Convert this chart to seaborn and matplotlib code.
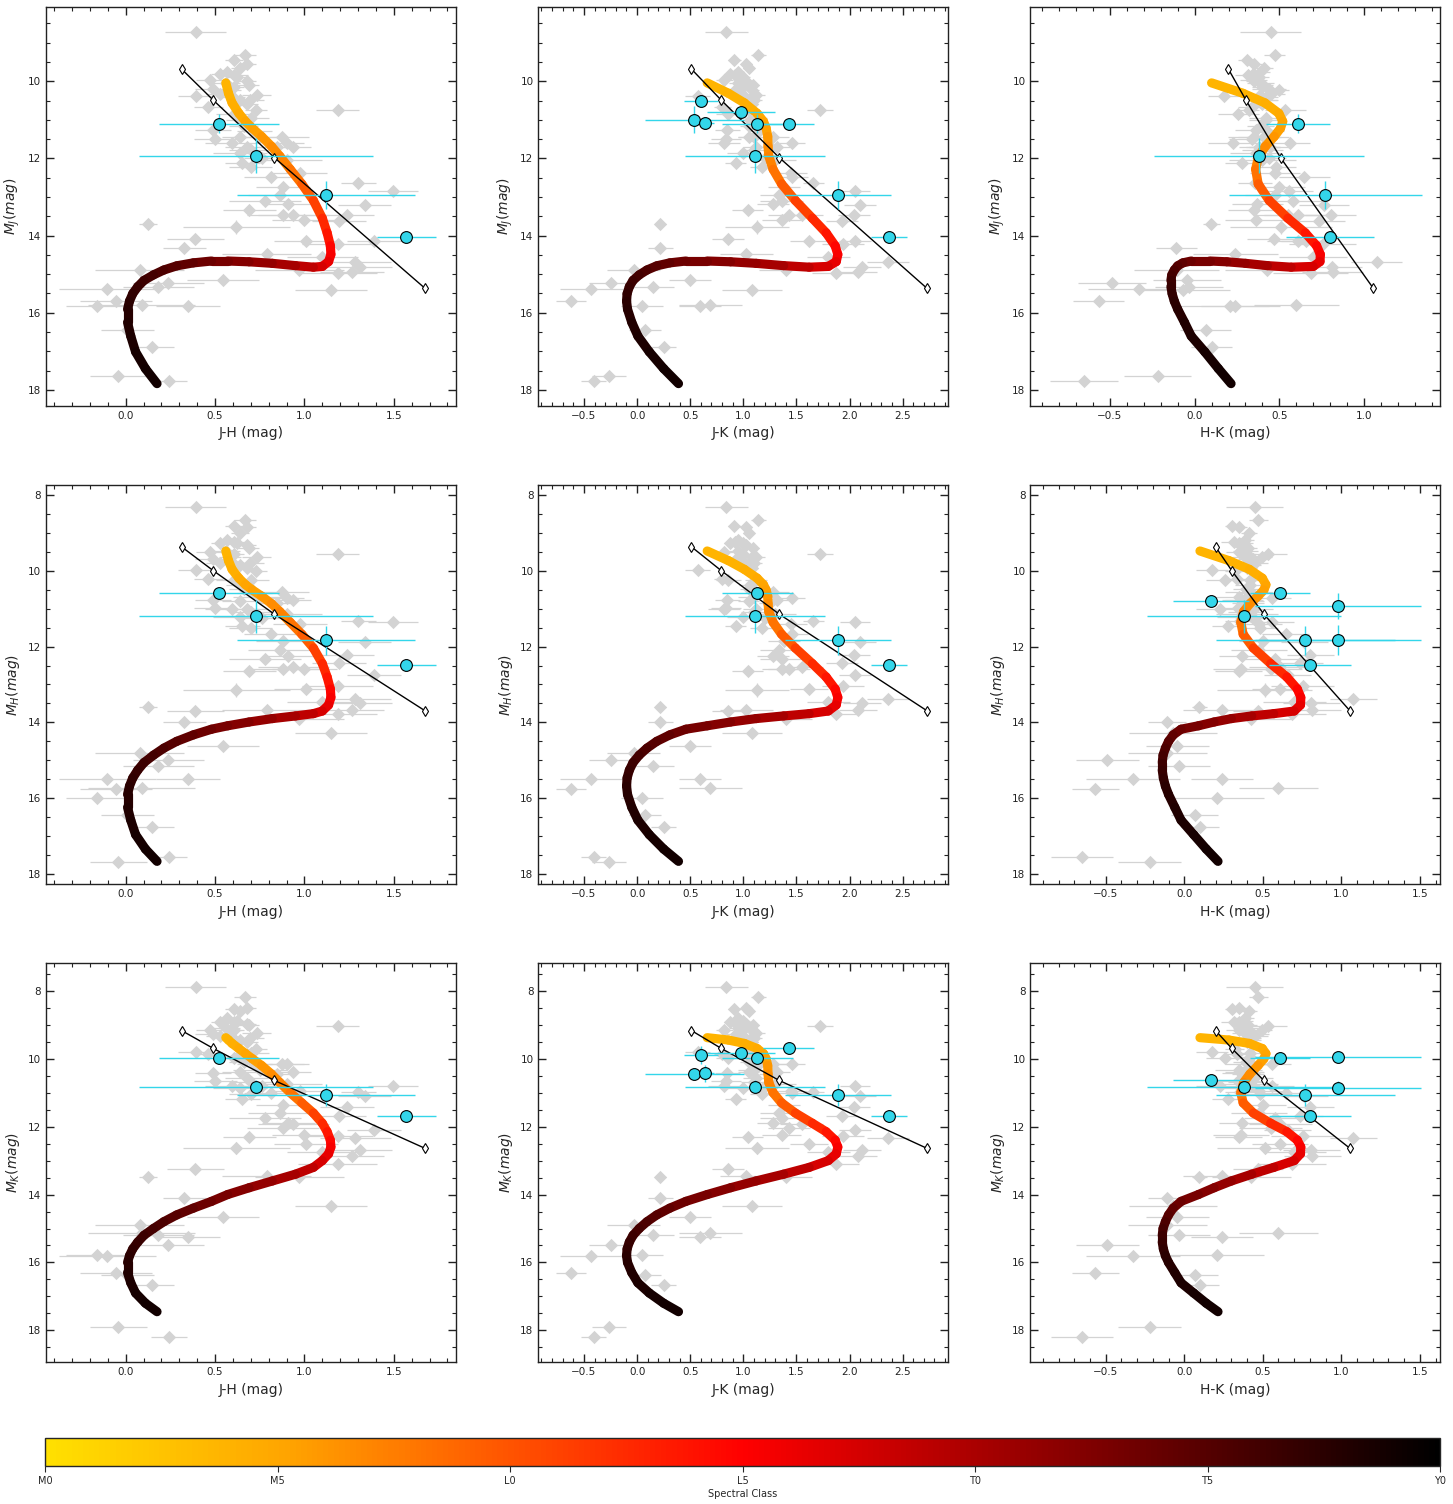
import numpy as np
import matplotlib
matplotlib.use("Agg")
import matplotlib.pyplot as plt
import seaborn as sns
from matplotlib.colors import LinearSegmentedColormap, Normalize
from matplotlib.collections import LineCollection
from matplotlib.cm import ScalarMappable
import matplotlib.ticker as mticker

# ---------------- data ----------------
# field objects: absolute J magnitude and colours
field_MJ = [8.72, 9.33, 9.44, 9.54, 9.80, 9.76, 9.84, 10.00, 10.10, 10.19,
            10.32, 10.23, 10.49, 10.38, 10.49, 10.75, 10.75, 10.84, 11.01, 11.27,
            11.49, 11.44, 11.44, 11.44, 11.61, 11.61, 11.70, 11.87, 11.70, 11.70,
            12.12, 12.22, 12.48, 12.74, 12.95, 13.17, 13.10, 13.34, 13.47, 13.47,
            13.60, 12.64, 12.84, 13.21, 13.47, 13.62, 13.77, 13.71, 14.10, 14.31,
            14.14, 14.22, 14.47, 14.14, 14.55, 14.68, 14.81, 14.94, 14.97, 14.88,
            15.16, 14.88, 15.33, 15.38, 15.70, 15.82, 15.81, 15.83, 15.42, 16.45,
            16.90, 17.63, 17.78, 15.24, 9.97, 10.15, 10.36, 10.67, 12.05, 12.39,
            9.90, 10.05, 10.40, 10.60, 10.95, 11.15, 11.30, 11.78, 12.00, 9.65]
field_JH = [0.392, 0.668, 0.608, 0.681, 0.528, 0.565, 0.603, 0.677, 0.687, 0.490,
            0.528, 0.584, 0.640, 0.394, 0.696, 0.729, 1.185, 0.603, 0.640, 0.490,
            0.500, 0.640, 0.752, 0.873, 0.900, 0.593, 0.677, 0.640, 0.845, 0.938,
            0.653, 0.700, 0.813, 0.880, 0.864, 0.910, 0.780, 0.692, 0.880, 0.938,
            1.000, 1.302, 1.493, 1.336, 1.237, 1.194, 0.619, 0.123, 0.390, 0.328,
            1.010, 1.185, 0.789, 1.390, 1.100, 1.285, 1.310, 1.265, 1.185, 0.972,
            0.543, 0.077, 0.183, -0.103, -0.054, -0.162, 0.090, 0.350, 1.149, 0.009,
            0.149, -0.041, 0.241, 0.239, 0.472, 0.603, 0.733, 0.463, 0.900, 0.976,
            0.620, 0.560, 0.600, 0.680, 0.700, 0.660, 0.720, 0.700, 0.760, 0.640]
field_JK = [0.84, 1.14, 0.915, 1.03, 0.875, 0.95, 0.92, 1.03, 1.09, 0.93,
            0.98, 1.08, 1.05, 0.57, 1.10, 1.05, 1.72, 0.86, 1.06, 0.85,
            0.84, 1.05, 1.10, 1.28, 1.46, 0.82, 1.12, 1.00, 1.25, 1.32,
            0.93, 1.18, 1.46, 1.38, 1.34, 1.28, 1.36, 1.04, 1.43, 1.55,
            1.36, 1.66, 2.05, 2.10, 2.04, 1.93, 1.13, 0.22, 0.86, 0.22,
            1.62, 1.94, 1.03, 2.05, 1.80, 2.36, 2.12, 2.08, 1.87, 1.40,
            0.50, -0.03, 0.15, -0.43, -0.62, 0.044, 0.69, 0.59, 1.08, 0.075,
            0.25, -0.26, -0.41, -0.25, 0.82, 1.00, 1.12, 0.80, 1.30, 1.45,
            1.00, 0.95, 1.02, 1.08, 1.12, 1.05, 1.15, 1.10, 1.20, 1.05]
field_eJH = [0.17, 0.06, 0.05, 0.05, 0.05, 0.05, 0.08, 0.05, 0.06, 0.10,
             0.08, 0.06, 0.08, 0.10, 0.08, 0.06, 0.12, 0.10, 0.08, 0.10,
             0.12, 0.10, 0.15, 0.15, 0.10, 0.15, 0.12, 0.15, 0.10, 0.10,
             0.10, 0.12, 0.15, 0.15, 0.18, 0.15, 0.20, 0.15, 0.20, 0.20,
             0.18, 0.10, 0.14, 0.15, 0.15, 0.15, 0.30, 0.05, 0.16, 0.12,
             0.18, 0.20, 0.25, 0.15, 0.20, 0.20, 0.18, 0.18, 0.22, 0.25,
             0.20, 0.25, 0.20, 0.27, 0.20, 0.17, 0.30, 0.18, 0.20, 0.15,
             0.12, 0.16, 0.10, 0.20, 0.08, 0.06, 0.08, 0.08, 0.20, 0.15,
             0.06, 0.08, 0.07, 0.06, 0.10, 0.08, 0.10, 0.12, 0.10, 0.05]
field_eJK = [0.20, 0.07, 0.06, 0.05, 0.06, 0.06, 0.08, 0.05, 0.06, 0.10,
             0.09, 0.07, 0.08, 0.12, 0.08, 0.06, 0.12, 0.12, 0.10, 0.12,
             0.14, 0.10, 0.15, 0.15, 0.12, 0.15, 0.12, 0.15, 0.10, 0.12,
             0.10, 0.12, 0.15, 0.15, 0.18, 0.15, 0.20, 0.15, 0.20, 0.20,
             0.18, 0.10, 0.14, 0.15, 0.15, 0.15, 0.30, 0.05, 0.15, 0.12,
             0.18, 0.20, 0.25, 0.15, 0.20, 0.20, 0.18, 0.18, 0.22, 0.25,
             0.20, 0.25, 0.20, 0.30, 0.14, 0.20, 0.30, 0.20, 0.28, 0.15,
             0.12, 0.16, 0.12, 0.20, 0.08, 0.06, 0.08, 0.08, 0.20, 0.15,
             0.06, 0.08, 0.07, 0.06, 0.10, 0.08, 0.10, 0.12, 0.10, 0.05]
field_eHK = [0.18, 0.06, 0.05, 0.05, 0.05, 0.06, 0.08, 0.05, 0.06, 0.10,
             0.08, 0.06, 0.08, 0.10, 0.08, 0.06, 0.12, 0.12, 0.10, 0.12,
             0.14, 0.10, 0.15, 0.15, 0.12, 0.15, 0.12, 0.15, 0.10, 0.12,
             0.10, 0.12, 0.15, 0.15, 0.18, 0.15, 0.20, 0.15, 0.20, 0.20,
             0.18, 0.10, 0.14, 0.15, 0.15, 0.15, 0.30, 0.05, 0.16, 0.12,
             0.18, 0.20, 0.25, 0.15, 0.20, 0.15, 0.18, 0.18, 0.22, 0.25,
             0.20, 0.25, 0.20, 0.30, 0.15, 0.30, 0.25, 0.20, 0.28, 0.15,
             0.12, 0.20, 0.20, 0.20, 0.08, 0.06, 0.08, 0.08, 0.20, 0.15,
             0.06, 0.08, 0.07, 0.06, 0.10, 0.08, 0.10, 0.12, 0.10, 0.05]
field_eM = [0.05, 0.03, 0.03, 0.03, 0.03, 0.03, 0.03, 0.03, 0.03, 0.03,
            0.03, 0.03, 0.03, 0.03, 0.03, 0.03, 0.05, 0.03, 0.03, 0.03,
            0.03, 0.03, 0.03, 0.04, 0.04, 0.03, 0.04, 0.03, 0.04, 0.04,
            0.04, 0.04, 0.04, 0.04, 0.05, 0.05, 0.05, 0.05, 0.05, 0.05,
            0.05, 0.05, 0.05, 0.05, 0.05, 0.05, 0.18, 0.05, 0.05, 0.05,
            0.05, 0.05, 0.05, 0.05, 0.05, 0.05, 0.05, 0.05, 0.05, 0.05,
            0.05, 0.05, 0.05, 0.05, 0.05, 0.05, 0.05, 0.05, 0.05, 0.05,
            0.05, 0.05, 0.05, 0.05, 0.03, 0.03, 0.03, 0.03, 0.05, 0.05,
            0.03, 0.03, 0.03, 0.03, 0.03, 0.03, 0.03, 0.04, 0.04, 0.03]

# spectral-type sequence (M dwarf -> late T): spectral type, M_K and colours
seq_spt = [3.6, 3.9, 4.2, 4.5, 4.9, 5.2, 5.8, 6.3, 6.9, 7.6, 8.8, 10.4, 12.0, 13.3,
           14.3, 15.0, 15.8, 16.8, 18.0, 19.6, 20.8, 21.8, 22.6, 23.3, 24.0, 24.6,
           25.2, 25.7, 26.2, 26.6, 27.0, 27.3, 27.6, 27.9, 28.2, 28.5, 28.8, 29.0]
seq_MK = [9.38, 9.45, 9.55, 9.70, 9.85, 10.00, 10.20, 10.45, 10.70, 11.00, 11.30, 11.60,
          11.90, 12.15, 12.40, 12.60, 12.80, 13.00, 13.20, 13.40, 13.60, 13.80, 14.00,
          14.20, 14.40, 14.60, 14.80, 15.00, 15.20, 15.40, 15.60, 15.80, 16.00, 16.30,
          16.60, 16.90, 17.20, 17.45]
seq_JK = [0.66, 0.86, 1.01, 1.13, 1.19, 1.215, 1.23, 1.233, 1.24, 1.28, 1.36, 1.49,
          1.65, 1.78, 1.865, 1.89, 1.875, 1.80, 1.62, 1.38, 1.12, 0.88, 0.66,
          0.46, 0.308, 0.185, 0.093, 0.02, -0.038, -0.073, -0.094, -0.099, -0.09, -0.05,
          0.008, 0.115, 0.25, 0.39]
seq_JH = [0.56, 0.575, 0.595, 0.633, 0.67, 0.708, 0.76, 0.815, 0.862, 0.92, 0.985, 1.05,
          1.10, 1.127, 1.145, 1.148, 1.135, 1.10, 1.05, 0.95, 0.82, 0.69, 0.57,
          0.48, 0.378, 0.285, 0.213, 0.155, 0.102, 0.067, 0.039, 0.021, 0.01, 0.01,
          0.028, 0.055, 0.11, 0.175]

# reference sequence (black line with diamonds)
line_MJ = [9.68, 10.49, 11.98, 15.37]
line_MH = [9.368, 10.00, 11.148, 13.695]
line_MK = [9.169, 9.697, 10.641, 12.64]

# highlighted objects (cyan)
nan = np.nan
tgt_MJ = [11.10, 11.93, 12.95, 14.05, 10.50, 11.00, 11.07, 10.80, 11.10, nan, nan, nan]
tgt_MH = [10.58, 11.20, 11.83, 12.48, nan, nan, nan, nan, nan, 10.80, 10.93, 11.83]
tgt_MK = [9.97, 10.82, 11.06, 11.68, 9.90, 10.46, 10.43, 9.82, 9.67, 10.63, 9.95, 10.85]
tgt_eJH = [0.335, 0.655, 0.50, 0.165, nan, nan, nan, nan, nan, nan, nan, nan]
tgt_eJK = [0.335, 0.66, 0.50, 0.17, 0.16, 0.47, 0.08, 0.32, 0.24, nan, nan, nan]
tgt_eHK = [0.19, 0.62, 0.57, 0.26, nan, nan, nan, nan, nan, 0.24, 0.53, 0.53]
tgt_eMJ = [0.25, 0.46, 0.36, 0.04, 0.06, 0.35, 0.05, 0.15, 0.10, nan, nan, nan]
tgt_eMH = [0.13, 0.43, 0.38, 0.12, nan, nan, nan, nan, nan, 0.10, 0.35, 0.40]
tgt_eMK = [0.10, 0.20, 0.33, 0.08, 0.27, 0.10, 0.25, 0.10, 0.10, 0.10, 0.10, 0.20]

cbar_ticks = [0, 5, 10, 15, 20, 25, 30]
cbar_labels = ['M0', 'M5', 'L0', 'L5', 'T0', 'T5', 'Y0']

# ---------------- style ----------------
sns.set_theme(style="ticks")
plt.rcParams['font.family'] = ['DejaVu Sans']
plt.rcParams['mathtext.fontset'] = 'dejavusans'

cmap = LinearSegmentedColormap.from_list(
    'spt', [(0.0, '#FFE000'), (0.17, '#FFA500'), (0.5, '#FF0000'), (1.0, '#000000')])
norm = Normalize(0, 30)

fJ = np.array(field_MJ)
fJH = np.array(field_JH)
fJK = np.array(field_JK)
field_mag = {'J': fJ, 'H': fJ - fJH, 'K': fJ - fJK}
field_col = {('J', 'H'): fJH, ('J', 'K'): fJK, ('H', 'K'): fJK - fJH}
field_cerr = {('J', 'H'): np.array(field_eJH), ('J', 'K'): np.array(field_eJK),
              ('H', 'K'): np.array(field_eHK)}
sK = np.array(seq_MK)
sJ = sK + np.array(seq_JK)
sH = sJ - np.array(seq_JH)
seq = {'J': sJ, 'H': sH, 'K': sK}
lin = {'J': np.array(line_MJ), 'H': np.array(line_MH), 'K': np.array(line_MK)}
tgt = {'J': np.array(tgt_MJ), 'H': np.array(tgt_MH), 'K': np.array(tgt_MK)}
tgt_merr = {'J': np.array(tgt_eMJ), 'H': np.array(tgt_eMH), 'K': np.array(tgt_eMK)}
tgt_cerr = {('J', 'H'): np.array(tgt_eJH), ('J', 'K'): np.array(tgt_eJK),
            ('H', 'K'): np.array(tgt_eHK)}
spt = np.array(seq_spt)

rows = [('J', r'$M_J(mag)$', (18.42, 8.08)),
        ('H', r'$M_H(mag)$', (18.27, 7.74)),
        ('K', r'$M_K(mag)$', (18.94, 7.19))]
cols = [(('J', 'H'), 'J-H (mag)'), (('J', 'K'), 'J-K (mag)'), (('H', 'K'), 'H-K (mag)')]
xlims = [[(-0.448, 1.848), (-0.93, 2.93), (-0.97, 1.45)],
         [(-0.448, 1.848), (-0.93, 2.93), (-0.98, 1.63)],
         [(-0.448, 1.848), (-0.93, 2.93), (-0.98, 1.63)]]

fig = plt.figure(figsize=(14.53, 15.04), dpi=100)
W, H = 1453.0, 1504.0
col_px = [(45.7, 456.0), (538.3, 948.3), (1030.3, 1440.3)]
row_px = [(7.3, 406.0), (485.0, 884.3), (963.3, 1362.3)]
cyan = '#33d6ea'

for r, (mb, ylab, ylim) in enumerate(rows):
    for c, (pair, xlab) in enumerate(cols):
        x0, x1 = col_px[c]
        y0, y1 = row_px[r]
        ax = fig.add_axes([x0 / W, 1 - y1 / H, (x1 - x0) / W, (y1 - y0) / H])
        a, b = pair
        # field objects
        fx = field_col[pair]
        fy = field_mag[mb]
        ax.errorbar(fx, fy, xerr=field_cerr[pair], yerr=field_eM, fmt='none',
                    ecolor='lightgray', elinewidth=0.9, capsize=0, zorder=1)
        sns.scatterplot(x=fx, y=fy, ax=ax, marker='D', color='lightgray', s=46,
                        linewidth=0, zorder=2)
        # spectral sequence
        sx = seq[a] - seq[b]
        sy = seq[mb]
        pts = np.column_stack([sx, sy])
        segs = [pts[i:i + 2] for i in range(len(pts) - 1)]
        lc = LineCollection(segs, colors=cmap(norm((spt[:-1] + spt[1:]) / 2)),
                            linewidths=6.6, capstyle='round', joinstyle='round', zorder=3)
        ax.add_collection(lc)
        # black reference line
        sns.lineplot(x=lin[a] - lin[b], y=lin[mb], ax=ax, sort=False, estimator=None,
                     color='black', linewidth=1.0, marker='d', markersize=5.5,
                     markerfacecolor='white', markeredgecolor='black',
                     markeredgewidth=0.8, zorder=4)
        # highlighted objects
        tx = tgt[a] - tgt[b]
        ty = tgt[mb]
        m = np.isfinite(tx) & np.isfinite(ty)
        ax.errorbar(tx[m], ty[m], xerr=tgt_cerr[pair][m], yerr=tgt_merr[mb][m],
                    fmt='none', ecolor=cyan, elinewidth=1.0, capsize=0, zorder=5)
        sns.scatterplot(x=tx[m], y=ty[m], ax=ax, marker='o', color=cyan, s=72,
                        edgecolor='black', linewidth=0.8, zorder=6)
        # axes
        ax.set_xlim(*xlims[r][c])
        ax.set_ylim(*ylim)
        ax.set_xlabel(xlab, fontsize=10)
        ax.set_ylabel(ylab, fontsize=10)
        ax.xaxis.set_major_locator(mticker.MultipleLocator(0.5))
        ax.xaxis.set_minor_locator(mticker.MultipleLocator(0.1))
        ax.yaxis.set_major_locator(mticker.MultipleLocator(2))
        ax.yaxis.set_minor_locator(mticker.MultipleLocator(0.5))
        ax.tick_params(which='both', direction='in', top=True, right=True,
                       labelsize=7.5, colors='#222222')
        ax.tick_params(which='major', length=6, width=1.0)
        ax.tick_params(which='minor', length=3, width=0.8)
        for sp in ax.spines.values():
            sp.set_color('#222222')
            sp.set_linewidth(1.0)

# colorbar
cax = fig.add_axes([45 / W, 1 - 1466 / H, 1395 / W, 28 / H])
cb = fig.colorbar(ScalarMappable(norm=norm, cmap=cmap), cax=cax, orientation='horizontal')
cb.set_ticks(cbar_ticks)
cb.set_ticklabels(cbar_labels)
cb.ax.tick_params(labelsize=7, length=4, width=0.8, direction='out')
cb.set_label('Spectral Class', fontsize=7, labelpad=2)
cb.outline.set_linewidth(1.0)

fig.savefig('out.png', dpi=100)
